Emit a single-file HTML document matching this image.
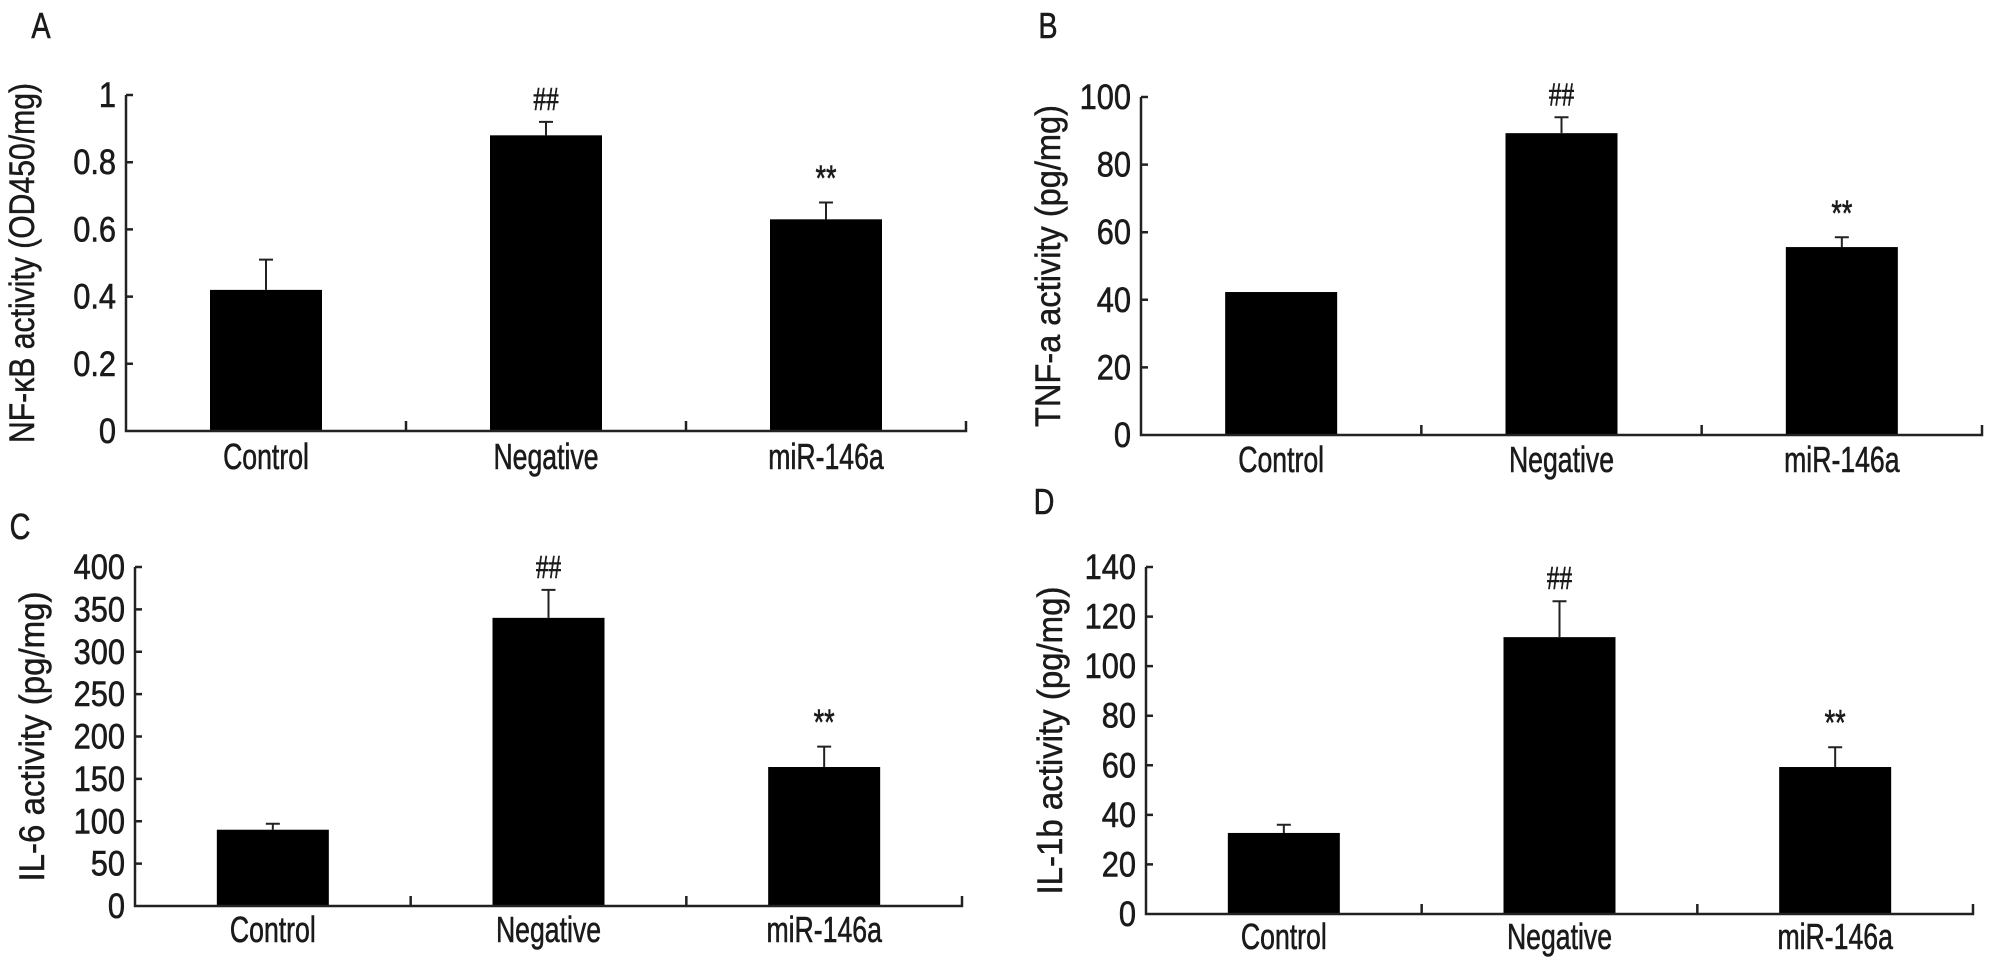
<!DOCTYPE html>
<html><head><meta charset="utf-8"><style>
html,body{margin:0;padding:0;background:#fff;}
svg{display:block;font-family:"Liberation Sans",Arial,sans-serif;}
</style></head><body>
<svg id="fig" width="1996" height="970" viewBox="0 0 1996 970"></svg>
<script>
const categories = ["Control", "Negative", "miR-146a"];
const nfkbValues = [0.42, 0.88, 0.63];
const nfkbErrors = [0.09, 0.04, 0.05];
const tnfValues = [42.3, 89.3, 55.6];
const tnfErrors = [0, 4.7, 2.9];
const il6Values = [90, 340, 164];
const il6Errors = [7, 33, 24];
const il1bValues = [32.7, 111.7, 59.3];
const il1bErrors = [3.3, 14.5, 8];
const nfkbTicks = ["0", "0.2", "0.4", "0.6", "0.8", "1"];
const tnfTicks = ["0", "20", "40", "60", "80", "100"];
const il6Ticks = ["0", "50", "100", "150", "200", "250", "300", "350", "400"];
const il1bTicks = ["0", "20", "40", "60", "80", "100", "120", "140"];
const nfkbMarks = ["", "##", "**"];
const tnfMarks = ["", "##", "**"];
const il6Marks = ["", "##", "**"];
const il1bMarks = ["", "##", "**"];

const NS = "http://www.w3.org/2000/svg";
const svg = document.getElementById("fig");
function mk(tag, attrs, parent) {
  const e = document.createElementNS(NS, tag);
  for (const k in attrs) e.setAttribute(k, attrs[k]);
  (parent || svg).appendChild(e);
  return e;
}
function ctext(parent, x, y, size, anchor, str, sx, fam) {
  const t = mk("text", {x:0, y:0, "font-size":size, "text-anchor":anchor, fill:"#1a1a1a",
    stroke:"#1a1a1a", "stroke-width":0.6,
    transform:`translate(${x},${y}) scale(${sx},1)`}, parent);
  if (fam) t.setAttribute("font-family", fam);
  t.textContent = str;
  return t;
}

const panels = [
  {id:"a", letter:"A", lx:41, ly:38, x0:126, x1:966, y0:431, y1:95, max:1, ticks:nfkbTicks, vals:nfkbValues, errs:nfkbErrors, marks:nfkbMarks,
   title:"NF-κB activity (OD450/mg)", tx:22, tlen:360, labY:469},
  {id:"b", letter:"B", lx:1048, ly:38, x0:1141, x1:1982, y0:435, y1:97, max:100, ticks:tnfTicks, vals:tnfValues, errs:tnfErrors, marks:tnfMarks,
   title:"TNF-a activity (pg/mg)", tx:1048, tlen:322, labY:472},
  {id:"c", letter:"C", lx:20, ly:539, x0:135, x1:962, y0:906, y1:567, max:400, ticks:il6Ticks, vals:il6Values, errs:il6Errors, marks:il6Marks,
   title:"IL-6 activity (pg/mg)", tx:32, tlen:290, labY:942},
  {id:"d", letter:"D", lx:1044, ly:514, x0:1146, x1:1973, y0:914, y1:567, max:140, ticks:il1bTicks, vals:il1bValues, errs:il1bErrors, marks:il1bMarks,
   title:"IL-1b activity (pg/mg)", tx:1050, tlen:308, labY:949}
];

panels.forEach(p => {
  const g = mk("g", {});
  
  
  const yS = v => p.y0 - (v / p.max) * (p.y0 - p.y1);
  const cw = (p.x1 - p.x0) / categories.length;
  const xC = i => p.x0 + cw * (i + 0.5);
  const barW = 112;

  const letter = ctext(g, p.lx, p.ly, 36, "middle", p.letter, 0.8);
  
  

  p.vals.forEach((v, i) => {
    const r = mk("rect", {x:xC(i) - barW/2, y:yS(v), width:barW, height:p.y0 - yS(v), fill:"#000"}, g);
    
    
    const e = p.errs[i];
    if (e > 0) {
      const eb = mk("path", {d:`M${xC(i)},${yS(v)}V${yS(v+e)}M${xC(i)-7},${yS(v+e)}H${xC(i)+7}`, stroke:"#222", "stroke-width":2, fill:"none"}, g);
      
      
    }
    if (p.marks[i]) {
      const isHash = p.marks[i] === "##";
      const m = ctext(g, xC(i), yS(v + e) - 12, isHash ? 34 : 36, "middle", p.marks[i], 0.75,
        isHash ? "Liberation Serif, serif" : null);
      
      
    }
    const lab = ctext(g, xC(i), p.labY, 36, "middle", categories[i], 0.74);
    
    
  });

  let d = `M${p.x0},${p.y1}V${p.y0}H${p.x1}V${p.y0-10}`;
  for (let i = 1; i < categories.length; i++) d += `M${p.x0 + cw*i},${p.y0}V${p.y0-10}`;
  p.ticks.forEach(t => { d += `M${p.x0},${yS(parseFloat(t))}H${p.x0+7}`; });
  const ax = mk("path", {d:d, stroke:"#222", "stroke-width":2.5, fill:"none"}, g);
  
  

  p.ticks.forEach((t, k) => {
    const tl = ctext(g, p.x0 - 10, yS(parseFloat(t)) + 12, 35, "end", t, 0.88);
    
    
  });

  const cy = (p.y0 + p.y1) / 2;
  const tt = mk("text", {x:0, y:0, "font-size":35, "text-anchor":"middle", fill:"#1a1a1a",
    stroke:"#1a1a1a", "stroke-width":0.5,
    transform:`translate(${p.tx + 12},${cy}) rotate(-90)`, textLength:p.tlen, lengthAdjust:"spacingAndGlyphs"}, g);
  tt.textContent = p.title;
  
  
});
</script>
</body></html>
